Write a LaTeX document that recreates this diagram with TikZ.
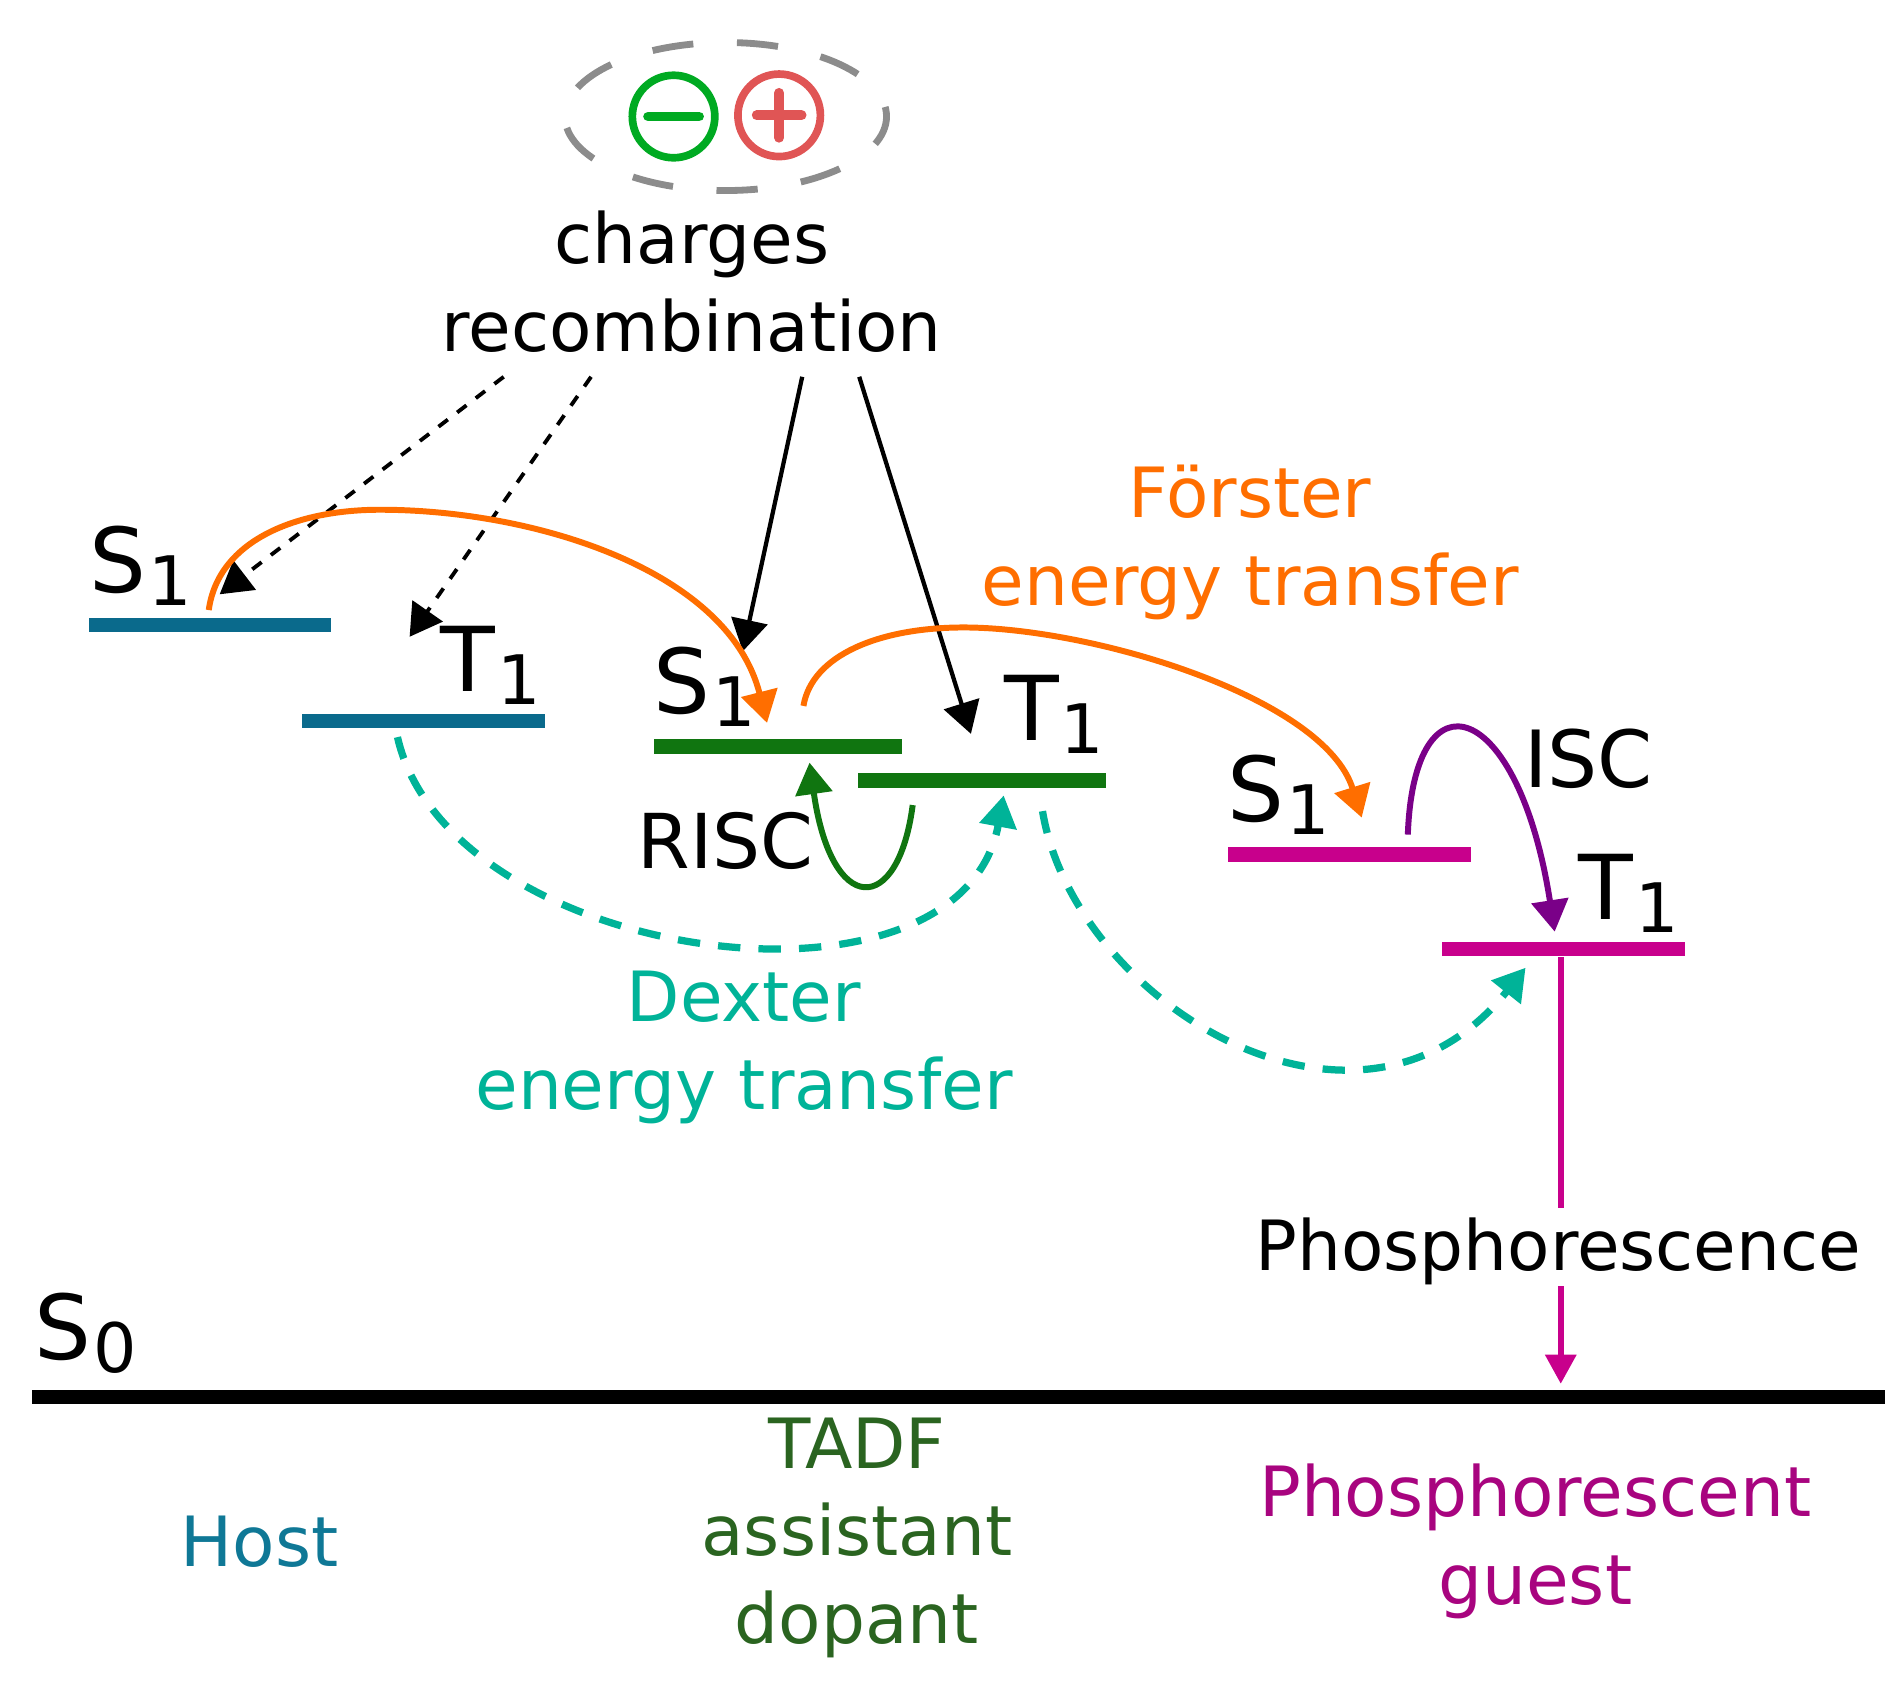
\documentclass[tikz,border=0pt]{standalone}
\usepackage{fontspec}
\setmainfont{DejaVu Sans}
\usepackage{xcolor}
\definecolor{hostblue}{HTML}{0A6A8C}
\definecolor{hosttext}{HTML}{0F7896}
\definecolor{tadfgreen}{HTML}{107510}
\definecolor{tadftext}{HTML}{2A6420}
\definecolor{guestpink}{HTML}{C8008C}
\definecolor{guesttext}{HTML}{A8047F}
\definecolor{forsterorange}{HTML}{FF6E00}
\definecolor{dexterteal}{HTML}{00B398}
\definecolor{iscpurple}{HTML}{7A0088}
\definecolor{minusgreen}{HTML}{00AA22}
\definecolor{plusred}{HTML}{E05555}
\usetikzlibrary{shapes.geometric, arrows.meta}
\newcommand{\statelabel}[2]{{\fontsize{42}{42}\selectfont #1\raisebox{-6pt}{\fontsize{32}{32}\selectfont\hspace{1pt}#2}}}

\begin{document}
\begin{tikzpicture}[
        x=0.02cm, y=-0.02cm,
        label_text/.style={align=center, inner sep=0pt, font=\fontsize{32.5}{41}\selectfont},
        state_text/.style={anchor=base west, inner sep=0pt},
        energy_level/.style={rectangle, inner sep=0pt, minimum width=4cm, minimum height=0.24cm},
        level_host/.style={energy_level, fill=hostblue},
        level_tadf/.style={energy_level, fill=tadfgreen},
        level_guest/.style={energy_level, fill=guestpink},
        charge_ring/.style={circle, draw, line width=3.6pt, inner sep=0pt, minimum size=1.36cm},
        charge_bar/.style={line width=4.6pt, line cap=round},
        big_tip/.style={-{Triangle[length=0.52cm, width=0.6cm]}},
        black_arrow/.style={big_tip, draw=black, line width=2pt},
        black_dashed/.style={big_tip, draw=black, line width=1.8pt, dash pattern=on 5.5pt off 5.5pt},
        forster_arrow/.style={big_tip, draw=forsterorange, line width=2.8pt},
        dexter_arrow/.style={big_tip, draw=dexterteal, line width=3.4pt, dash pattern=on 10.5pt off 8.5pt},
        isc_arrow/.style={big_tip, draw=iscpurple, line width=2.8pt},
        risc_arrow/.style={big_tip, draw=tadfgreen, line width=2.8pt}
    ]

    \useasboundingbox (0,0) rectangle (1568,1386);

    % Charges
    \node[ellipse, draw=black!45, line width=3.2pt, dash pattern=on 0.68cm off 0.72cm, dash phase=0.52cm, inner sep=0pt, minimum width=5.3cm, minimum height=2.44cm] (pair) at (598,96) {};
    \node[charge_ring, draw=minusgreen] (minus) at (555,96) {};
    \node[charge_ring, draw=plusred] (plus) at (642,95) {};
    \draw[charge_bar, draw=minusgreen] ([xshift=-0.42cm]minus.center) -- ([xshift=0.42cm]minus.center);
    \draw[charge_bar, draw=plusred] ([xshift=-0.37cm]plus.center) -- ([xshift=0.37cm]plus.center);
    \draw[charge_bar, draw=plusred] ([yshift=-0.37cm]plus.center) -- ([yshift=0.37cm]plus.center);
    \node[label_text] (charges) at (570,232) {charges\\recombination};

    % Energy levels
    \node[level_host] (host_s1) at (173,515) {};
    \node[level_host] (host_t1) at (349,594) {};
    \node[level_tadf, minimum width=4.08cm] (tadf_s1) at (641,615) {};
    \node[level_tadf, minimum width=4.08cm] (tadf_t1) at (809,643) {};
    \node[level_guest] (guest_s1) at (1112,704) {};
    \node[level_guest] (guest_t1) at (1288,782) {};
    \node[rectangle, fill=black, inner sep=0pt, minimum width=30.54cm, minimum height=0.22cm] (ground) at (789.5,1151) {};

    % State labels
    \node[state_text] (host_s1_text) at (73,488) {\statelabel{S}{1}};
    \node[state_text] (host_t1_text) at (363,570) {\statelabel{T}{1}};
    \node[state_text] (tadf_s1_text) at (538,588) {\statelabel{S}{1}};
    \node[state_text] (tadf_t1_text) at (827,610) {\statelabel{T}{1}};
    \node[state_text] (guest_s1_text) at (1011,677) {\statelabel{S}{1}};
    \node[state_text] (guest_t1_text) at (1300,758) {\statelabel{T}{1}};
    \node[state_text] (ground_text) at (28,1120) {\statelabel{S}{0}};

    % Labels
    \node[label_text, text=forsterorange] (forster) at (1030,447) {Förster\\energy transfer};
    \node[label_text, text=dexterteal] (dexter) at (613,863) {Dexter\\energy transfer};
    \node[label_text, font=\fontsize{35.5}{41}\selectfont] (risc) at (598,693) {RISC};
    \node[label_text, font=\fontsize{37}{41}\selectfont] (isc) at (1309,625) {ISC};
    \node[label_text, inner ysep=4.5pt] (phos) at (1284,1031) {Phosphorescence};
    \node[label_text, text=hosttext] (host) at (214,1270) {Host};
    \node[label_text, text=tadftext] (tadf) at (706,1267) {TADF\\assistant\\dopant};
    \node[label_text, text=guesttext] (guest) at (1265,1270) {Phosphorescent\\guest};

    % Charges to levels
    \draw[black_dashed] ([xshift=-3.1cm,yshift=-0.4cm]charges.south) -- ([xshift=0.16cm,yshift=0.38cm]host_s1.north);
    \draw[black_dashed] ([xshift=-1.66cm,yshift=-0.4cm]charges.south) -- ([xshift=-0.23cm,yshift=1.26cm]host_t1.north);
    \draw[black_arrow] ([xshift=1.82cm,yshift=-0.4cm]charges.south) -- ([xshift=-0.58cm,yshift=1.44cm]tadf_s1.north);
    \draw[black_arrow] ([xshift=2.76cm,yshift=-0.4cm]charges.south) -- ([xshift=-0.18cm,yshift=0.64cm]tadf_t1.north);

    % Forster transfer
    \coordinate (forster_top_a) at (313,420);
    \coordinate (forster_top_b) at (794,517);
    \draw[forster_arrow] ([xshift=-0.02cm,yshift=0.12cm]host_s1.north) .. controls +(8,-58) and +(-68,0) .. (forster_top_a) .. controls +(127,0) and +(-32,-126) .. ([xshift=-0.18cm,yshift=0.26cm]tadf_s1.north);
    \draw[forster_arrow] ([xshift=0.42cm,yshift=0.54cm]tadf_s1.north) .. controls +(7,-42) and +(-69,0) .. (forster_top_b) .. controls +(106,0) and +(-31,-99) .. ([xshift=0.2cm,yshift=0.48cm]guest_s1.north);

    % Dexter transfer
    \draw[dexter_arrow] ([xshift=-0.43cm,yshift=-0.14cm]host_t1.south) .. controls +(42,186) and +(-36,196) .. ([xshift=0.36cm,yshift=-0.12cm]tadf_t1.south);
    \draw[dexter_arrow] ([xshift=1cm,yshift=-0.38cm]tadf_t1.south) .. controls +(26,158) and +(-137,172) .. ([xshift=-0.62cm,yshift=-0.18cm]guest_t1.south);

    % Crossings
    \draw[risc_arrow] ([xshift=-1.14cm,yshift=-0.28cm]tadf_t1.south) .. controls +(-12,92) and +(18,127) .. ([xshift=0.52cm,yshift=-0.14cm]tadf_s1.south);
    \draw[isc_arrow] ([xshift=0.96cm,yshift=0.2cm]guest_s1.north) .. controls +(5,-138) and +(-30,-193) .. ([xshift=-0.14cm,yshift=0.16cm]guest_t1.north);

    % Emission
    \draw[draw=guestpink, line width=2.6pt] ([xshift=-0.04cm]guest_t1.south) -- ([xshift=-0.04cm]guest_t1.south |- phos.north);
    \draw[-{Triangle[length=0.48cm, width=0.5cm]}, draw=guestpink, line width=2.6pt] ([xshift=-0.04cm,yshift=0.14cm]guest_t1.south |- phos.south) -- ([xshift=-0.04cm,yshift=0.1cm]guest_t1.south |- ground.north);

\end{tikzpicture}
\end{document}
